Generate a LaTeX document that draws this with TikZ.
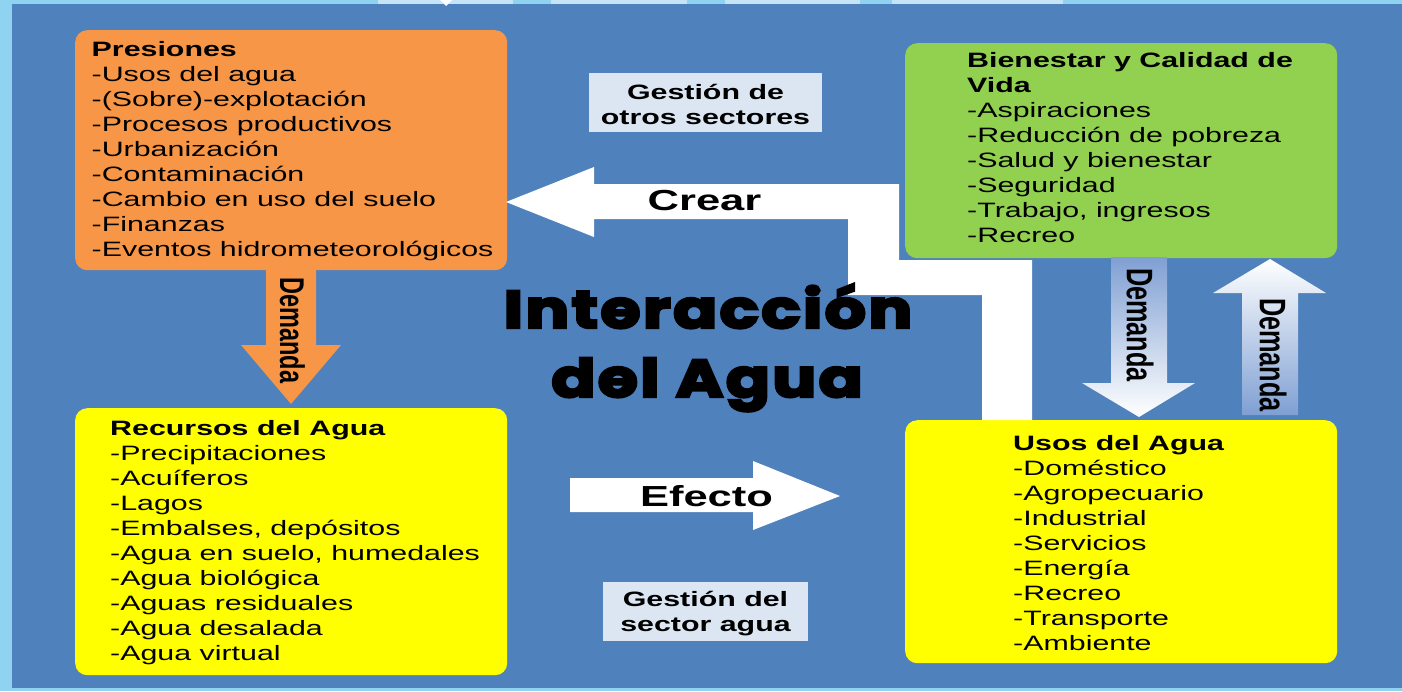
\documentclass[tikz,border=0pt]{standalone}
\usepackage{fontspec}
\setmainfont{Liberation Sans}
\newfontfamily\titlefont{Poppins}[LetterSpace=4,BoldFeatures={FakeBold=4.5}]
\usepackage{graphicx}
\definecolor{bgblue}{HTML}{4F81BD}
\definecolor{edgeblue}{HTML}{8FD3F0}
\definecolor{segblue}{HTML}{C5E5F7}
\definecolor{orangeC}{HTML}{F79646}
\definecolor{greenC}{HTML}{92D050}
\definecolor{yellowC}{HTML}{FFFF00}
\definecolor{gestC}{HTML}{DCE6F2}
\definecolor{fadeblue}{HTML}{7F9FD3}
\newcommand\bx[1]{\scalebox{1.46}[1]{\begin{tabular}{@{}l@{}}#1\end{tabular}}}
\newcommand\bc[1]{\scalebox{1.46}[1]{\begin{tabular}{@{}c@{}}#1\end{tabular}}}
\tikzset{
  panel/.style={rounded corners=12pt, inner sep=0pt, anchor=north west, draw=none},
  body/.style={anchor=north west, inner sep=0pt, font=\fontsize{20.8}{25}\selectfont},
  gestbox/.style={fill=gestC, inner sep=0pt, draw=none},
  gesttext/.style={inner sep=0pt, font=\bfseries\fontsize{20.8}{25}\selectfont},
  bigword/.style={anchor=base, inner sep=0pt, font=\bfseries\fontsize{29}{34}\selectfont},
  vword/.style={rotate=-90, inner sep=0pt, font=\bfseries\fontsize{25.3}{30}\selectfont},
  titleword/.style={anchor=base, inner sep=0pt, font=\titlefont\bfseries\fontsize{53}{60}\selectfont},
  blockarrow/.style={fill=white, draw=none},
}
\begin{document}
\begin{tikzpicture}[x=1pt,y=-1pt]
\useasboundingbox (0,0) rectangle (1402,691);
% background
\fill[edgeblue] (0,0) rectangle (1402,691);
\fill[bgblue] (12,4) rectangle (1402,688);
\fill[segblue] (378,0) rectangle (513,4);
\fill[segblue] (551,0) rectangle (687,4);
\fill[segblue] (725,0) rectangle (860,4);
\fill[segblue] (892,0) rectangle (1063,4);
\fill[white] (440,0) -- (452,0) -- (446,6) -- cycle;

% boxes
\node[panel, fill=orangeC, minimum width=432pt, minimum height=240pt] (pres) at (75,30) {};
\node[panel, fill=greenC, minimum width=432pt, minimum height=215pt] (bien) at (905,43) {};
\node[panel, fill=yellowC, minimum width=432pt, minimum height=267pt] (recu) at (75,408) {};
\node[panel, fill=yellowC, minimum width=432pt, minimum height=243pt] (usos) at (905,420) {};

% gestion boxes
\node[gestbox, minimum width=233pt, minimum height=59pt] (g1) at (705.5,102.5) {};
\node[gesttext] (g1t) at (705.5,107) {\bc{\strut Gestión de\\\strut otros sectores}};
\node[gestbox, minimum width=205pt, minimum height=59pt] (g2) at (705.5,611.5) {};
\node[gesttext] (g2t) at (705.5,614) {\bc{\strut Gestión del\\\strut sector agua}};

% Crear arrow
\fill[blockarrow] (506,202) -- (594,167) -- (594,184) -- (899,184) -- (899,260)
  -- (1032,260) -- (1032,420) -- (982,420) -- (982,295) -- (848,295) -- (848,219)
  -- (594,219) -- (594,237) -- cycle;
\node[bigword] (crear) at (704.5,210) {\scalebox{1.5}[1]{Crear}};

% Efecto arrow
\fill[blockarrow] (570,478) -- (753,478) -- (753,461) -- (840,496) -- (753,530)
  -- (753,512) -- (570,512) -- cycle;
\node[bigword] (efecto) at (706.5,506) {\scalebox{1.5}[1]{Efecto}};

% orange Demanda arrow
\fill[orangeC] (266,268) -- (316,268) -- (316,345) -- (341,345) -- (291,404)
  -- (241,345) -- (266,345) -- cycle;
\node[vword, font=\bfseries\fontsize{23.5}{28}\selectfont] (d1) at (292.5,330.5) {\scalebox{1}[1.46]{Demanda}};

% blue Demanda arrows
\shade[top color=fadeblue, middle color=white, bottom color=white]
  (1111,257) -- (1167,257) -- (1167,383) -- (1195,383) -- (1139,417)
  -- (1082,383) -- (1111,383) -- cycle;
\node[vword] (d2) at (1140,325) {\scalebox{1}[1.46]{Demanda}};
\shade[top color=white, middle color=white, bottom color=fadeblue]
  (1242,415) -- (1242,293) -- (1213,293) -- (1270,259) -- (1326,293)
  -- (1298,293) -- (1298,415) -- cycle;
\node[vword] (d3) at (1273,355) {\scalebox{1}[1.46]{Demanda}};

% title
\node[titleword] (t1) at (708,328) {\scalebox{1.22}[1]{Interacción}};
\node[titleword] (t2) at (707,397) {\scalebox{1.22}[1]{del Agua}};

% box texts
\node[body] (prest) at (91.5,39) {\bx{\strut\textbf{Presiones}\\
\strut-Usos del agua\\
\strut-(Sobre)-explotación\\
\strut-Procesos productivos\\
\strut-Urbanización\\
\strut-Contaminación\\
\strut-Cambio en uso del suelo\\
\strut-Finanzas\\
\strut-Eventos hidrometeorológicos}};

\node[body] (bient) at (967,50) {\bx{\strut\textbf{Bienestar y Calidad de}\\
\strut\textbf{Vida}\\
\strut-Aspiraciones\\
\strut-Reducción de pobreza\\
\strut-Salud y bienestar\\
\strut-Seguridad\\
\strut-Trabajo, ingresos\\
\strut-Recreo}};

\node[body] (recut) at (110,418) {\bx{\strut\textbf{Recursos del Agua}\\
\strut-Precipitaciones\\
\strut-Acuíferos\\
\strut-Lagos\\
\strut-Embalses, depósitos\\
\strut-Agua en suelo, humedales\\
\strut-Agua biológica\\
\strut-Aguas residuales\\
\strut-Agua desalada\\
\strut-Agua virtual}};

\node[body] (usost) at (1013,433) {\bx{\strut\textbf{Usos del Agua}\\
\strut-Doméstico\\
\strut-Agropecuario\\
\strut-Industrial\\
\strut-Servicios\\
\strut-Energía\\
\strut-Recreo\\
\strut-Transporte\\
\strut-Ambiente}};
\end{tikzpicture}
\end{document}
